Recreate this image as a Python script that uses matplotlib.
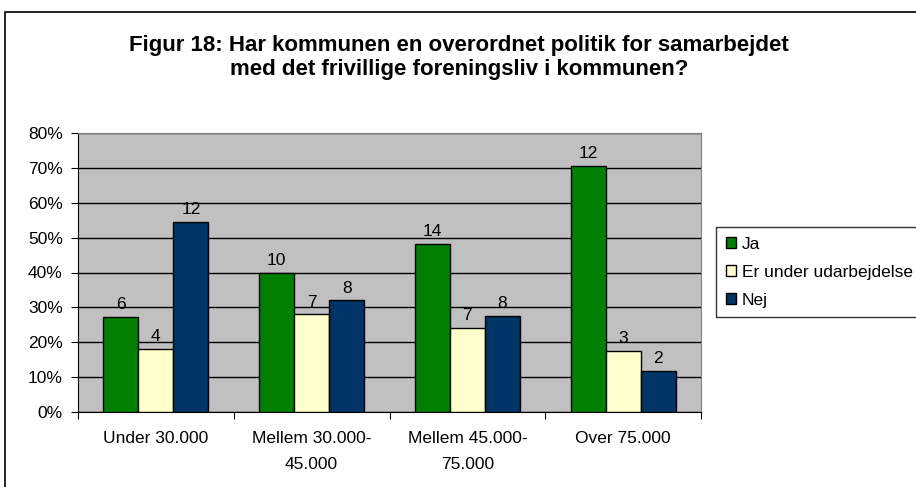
import matplotlib
matplotlib.use("Agg")
import matplotlib.pyplot as plt
from matplotlib.patches import Rectangle
import numpy as np

plt.rcParams['font.family'] = ['Liberation Sans', 'DejaVu Sans']

categories = ["Under 30.000", "Mellem 30.000-\n45.000", "Mellem 45.000-\n75.000", "Over 75.000"]
series_names = ["Ja", "Er under udarbejdelse", "Nej"]
ja_pct = [27.3, 40.0, 48.3, 70.6]
under_pct = [18.2, 28.0, 24.1, 17.6]
nej_pct = [54.5, 32.0, 27.6, 11.8]
ja_n = [6, 10, 14, 12]
under_n = [4, 7, 7, 3]
nej_n = [12, 8, 8, 2]
yticks = [0, 10, 20, 30, 40, 50, 60, 70, 80]
colors = ["#008000", "#FFFFCC", "#003366"]

W, H = 916, 487
FS = 12.5
fig = plt.figure(figsize=(W/100, H/100), dpi=100)
ax = fig.add_axes([78/W, 1-412/H, (701-78)/W, (412-133)/H])
ax.set_facecolor("#C0C0C0")

x = np.arange(len(categories))
bw = 0.225
for i, (vals, ns) in enumerate([(ja_pct, ja_n), (under_pct, under_n), (nej_pct, nej_n)]):
    pos = x + (i-1)*bw
    ax.bar(pos, vals, bw, color=colors[i], edgecolor="black", linewidth=1.0,
           label=series_names[i], zorder=3)
    for p, v, n in zip(pos, vals, ns):
        ax.text(p, v+1.3, str(n), ha="center", va="bottom", fontsize=FS, zorder=4)

ax.set_xlim(-0.5, len(categories)-0.5)
ax.set_ylim(0, 80)
ax.set_yticks(yticks)
ax.set_yticklabels([f"{t}%" for t in yticks], fontsize=FS)
ax.yaxis.grid(True, color="black", linewidth=1.0, zorder=1)
ax.set_axisbelow(True)
ax.set_xticks(np.arange(len(categories)+1)-0.5, minor=False)
ax.set_xticklabels([""]*(len(categories)+1))
ax.set_xticks(x, minor=True)
ax.set_xticklabels(categories, minor=True, fontsize=FS, linespacing=1.85)
ax.tick_params(axis="x", which="minor", length=0, pad=14)
ax.tick_params(axis="x", which="major", length=5, direction="out")
ax.tick_params(axis="y", length=5, direction="out", pad=6)
for s in ["top", "right"]:
    ax.spines[s].set_color("#808080")
for s in ["left", "bottom"]:
    ax.spines[s].set_color("black")

fig.text(459/W, 1-45/H, "Figur 18: Har kommunen en overordnet politik for samarbejdet",
         ha="center", va="center", fontsize=16, fontweight="bold")
fig.text(459/W, 1-70/H, "med det frivillige foreningsliv i kommunen?",
         ha="center", va="center", fontsize=16, fontweight="bold")

leg = ax.legend(loc="upper left", bbox_to_anchor=(716/W, 1-227/H), bbox_transform=fig.transFigure,
                fontsize=FS, frameon=True, fancybox=False, edgecolor="black",
                handlelength=0.6, handleheight=0.6, handletextpad=0.35, labelspacing=0.75,
                borderpad=0.55, borderaxespad=0)
leg.get_frame().set_linewidth(1.0)

frame = Rectangle((5/W, -0.1), 1.2, (1-12/H)+0.1, transform=fig.transFigure,
                  fill=False, edgecolor="black", linewidth=1.2, clip_on=False)
fig.patches.append(frame)

fig.savefig("out.png", dpi=100, facecolor="white")
